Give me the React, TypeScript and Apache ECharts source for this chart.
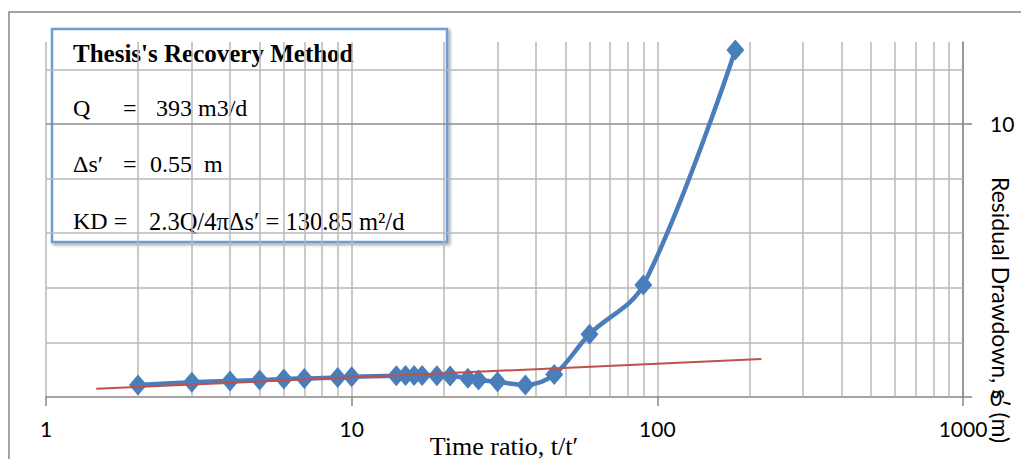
import React, { useEffect, useRef } from "react";
import * as echarts from "echarts";

// ---- data ----
const timeRatio = [2, 3, 4, 5, 6, 7, 9, 10, 14, 15, 16, 17, 19, 21, 24, 26, 30, 37, 46, 60, 90, 180];
const residualDrawdown = [0.44, 0.54, 0.59, 0.62, 0.66, 0.68, 0.71, 0.74, 0.78, 0.79, 0.79, 0.79, 0.78, 0.77, 0.69, 0.62, 0.56, 0.44, 0.82, 2.3, 4.1, 12.71];
const fitLineX = [1.46, 219];
const fitLineY = [0.3, 1.39];
const minorGridX = [2, 3, 4, 5, 6, 7, 8, 9, 20, 30, 40, 50, 60, 70, 80, 90, 200, 300, 400, 500, 600, 700, 800, 900];
const minorGridY = [2, 4, 6, 8, 12];
const yLabelValues = [0, 10];
const yMajorLine = 10;

const SERIF = "'Liberation Serif', 'Times New Roman', serif";
const SANS = "Lato, 'Liberation Sans', sans-serif";
const GRID = "#b9b9b9";

export default function App() {
  const ref = useRef<HTMLDivElement>(null);

  useEffect(() => {
    if (!ref.current) return;
    const chart = echarts.init(ref.current, undefined, { renderer: "svg" });

    const mainData = timeRatio.map((x, i) => [x, residualDrawdown[i]]);
    const fitData = fitLineX.map((x, i) => [x, fitLineY[i]]);

    const body = { fontFamily: SERIF, fontSize: 24, fill: "#000", verticalAlign: "middle" as const };

    chart.setOption({
      animation: false,
      backgroundColor: "#ffffff",
      grid: { left: 46, right: 58, top: 42, bottom: 62, containLabel: false },
      xAxis: {
        type: "log",
        logBase: 10,
        min: 1,
        max: 1000,
        axisLine: { show: true, onZero: false, lineStyle: { color: "#868686", width: 1.5 } },
        axisTick: { show: true, length: 9, lineStyle: { color: "#868686", width: 1.5 } },
        axisLabel: {
          margin: 21,
          fontFamily: SANS,
          fontSize: 21,
          color: "#000",
          formatter: (v: number) => String(Math.round(v)),
        },
        splitLine: { show: true, lineStyle: { color: GRID, width: 1.5 } },
      },
      yAxis: {
        type: "value",
        position: "right",
        min: 0,
        max: 13,
        interval: 10,
        axisLine: { show: true, onZero: false, lineStyle: { color: "#868686", width: 1.5 } },
        axisTick: { show: true, length: 9, customValues: yLabelValues, lineStyle: { color: "#868686", width: 1.5 } },
        axisLabel: {
          showMinLabel: true,
          showMaxLabel: false,
          hideOverlap: false,
          margin: 27,
          fontFamily: SANS,
          fontSize: 21,
          color: "#000",
          formatter: (v: number) => (yLabelValues.includes(v) ? String(v) : ""),
        },
        splitLine: { show: false },
      },
      series: [
        {
          type: "line",
          data: [],
          silent: true,
          z: 1,
          markLine: {
            silent: true,
            z: 1,
            symbol: ["none", "none"],
            label: { show: false },
            lineStyle: { color: GRID, width: 1.5, type: "solid" },
            emphasis: { disabled: true },
            data: [
              ...minorGridX.map((v) => ({ xAxis: v })),
              ...minorGridY.map((v) => ({ yAxis: v })),
              { yAxis: yMajorLine, lineStyle: { color: "#8c8c8c", width: 1.6, type: "solid" } },
            ],
          },
        },
        {
          type: "line",
          data: mainData,
          smooth: 0.35,
          symbol: "diamond",
          symbolSize: [18, 21],
          z: 3,
          lineStyle: { color: "#4a7ebb", width: 4.5 },
          itemStyle: { color: "#4a7ebb" },
        },
        {
          type: "line",
          data: fitData,
          symbol: "none",
          z: 4,
          lineStyle: { color: "#c0504d", width: 2 },
        },
      ],
      graphic: [
        {
          type: "polyline",
          silent: true,
          shape: { points: [[9, 470], [9, 12], [1040, 12]] },
          style: { stroke: "#868686", lineWidth: 1.5, fill: "none" },
          z: 0,
        },
        {
          type: "group",
          z: 10,
          children: [
            {
              type: "rect",
              shape: { x: 52, y: 29, width: 395, height: 213 },
              style: {
                fill: "#ffffff",
                stroke: "#6f9bd3",
                lineWidth: 2.5,
                shadowBlur: 3,
                shadowColor: "rgba(0,0,0,0.35)",
                shadowOffsetX: 2,
                shadowOffsetY: 2,
              },
            },
            { type: "text", x: 73, y: 53, style: { ...body, text: "Thesis's Recovery Method", fontSize: 25, fontWeight: "bold" } },
            { type: "text", x: 73, y: 108, style: { ...body, text: "Q" } },
            { type: "text", x: 123, y: 108, style: { ...body, text: "=" } },
            { type: "text", x: 156, y: 108, style: { ...body, text: "393 m3/d" } },
            { type: "text", x: 73, y: 164, style: { ...body, text: "Δs′" } },
            { type: "text", x: 123, y: 164, style: { ...body, text: "=" } },
            { type: "text", x: 150, y: 164, style: { ...body, text: "0.55" } },
            { type: "text", x: 204, y: 164, style: { ...body, text: "m" } },
            { type: "text", x: 73, y: 221, style: { ...body, text: "KD =" } },
            { type: "text", x: 149, y: 221, style: { ...body, text: "2.3Q/4πΔs′ = 130.85 m²/d", fontSize: 24.5 } },
          ],
        },
        {
          type: "text",
          x: 504,
          y: 446,
          z: 10,
          style: { text: "Time ratio, t/t′", fontFamily: SERIF, fontSize: 26, fill: "#000", align: "center", verticalAlign: "middle" },
        },
        {
          type: "text",
          x: 1001,
          y: 177,
          rotation: -Math.PI / 2,
          z: 10,
          style: { text: "Residual Drawdown, s′ (m)", fontFamily: SANS, fontSize: 23, fill: "#000", align: "left", verticalAlign: "middle" },
        },
      ],
    });

    return () => chart.dispose();
  }, []);

  return <div ref={ref} style={{ position: "fixed", left: 0, top: 0, width: 1021, height: 459 }} />;
}
